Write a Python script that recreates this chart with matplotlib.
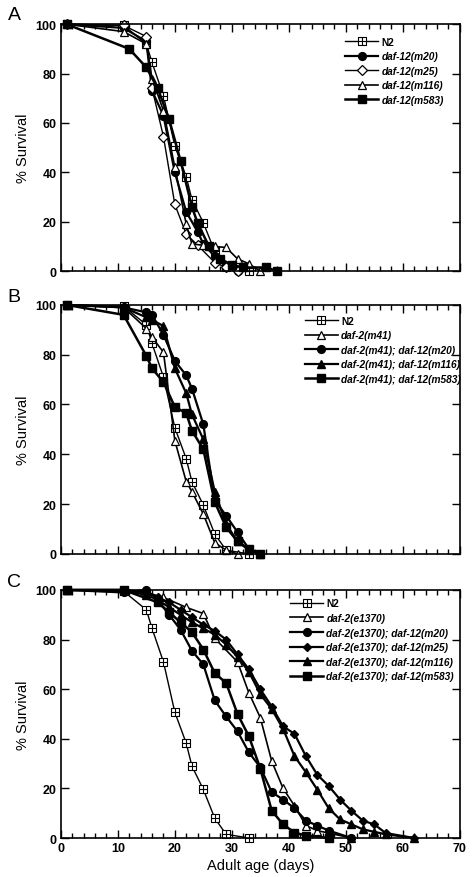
import matplotlib.pyplot as plt
from matplotlib.path import Path
from matplotlib.ticker import MultipleLocator

plt.rcParams['font.family'] = ['Liberation Sans', 'DejaVu Sans']

# N2 control, same curve in all three panels
n2_days = [1, 11, 15, 16, 18, 20, 22, 23, 25, 27, 29, 33]
n2_surv = [100, 99.5, 92, 84.5, 71, 50.7, 38.2, 29, 19.6, 8, 1.5, 0]

# panel A
a_m20_days = [1, 11, 15, 16, 18, 20, 22, 24, 25, 27, 29, 31]
a_m20_surv = [100, 98.5, 93, 73, 63, 40, 24, 16, 11, 6, 2, 0]
a_m25_days = [1, 11, 15, 16, 18, 20, 22, 24, 27, 29, 31]
a_m25_surv = [100, 99.5, 95, 74, 54.5, 27, 15, 10.5, 3.5, 1.5, 0]
a_m116_days = [1, 11, 15, 16, 18, 20, 22, 23, 25, 27, 29, 31, 33, 35]
a_m116_surv = [100, 97, 92, 78, 65, 42, 19, 11, 10.5, 10, 9.6, 5, 3, 0]
a_m583_days = [1, 12, 15, 17, 19, 21, 23, 24, 26, 28, 30, 32, 36, 38]
a_m583_surv = [100, 90, 82.5, 74, 61.5, 44.7, 26, 19.5, 10, 5, 2.5, 1.5, 1.5, 0]

# panel B
b_m41_days = [1, 11, 15, 16, 18, 20, 22, 23, 25, 27, 29, 31]
b_m41_surv = [100, 99, 90.5, 87, 81, 45.5, 29, 25, 16, 4.5, 1.5, 0]
b_m20_days = [1, 11, 15, 16, 18, 20, 22, 23, 25, 27, 29, 31, 33, 35]
b_m20_surv = [100, 99, 97, 96, 88, 77.5, 71.7, 66.4, 52, 21.5, 15.4, 8.7, 2, 0]
b_m116_days = [1, 11, 15, 16, 18, 20, 22, 23, 25, 27, 29, 31, 33, 35]
b_m116_surv = [100, 99, 95, 94, 91.5, 74.5, 64.5, 56, 46, 25, 12, 5, 1.5, 0]
b_m583_days = [1, 11, 15, 16, 18, 20, 22, 23, 25, 27, 29, 31, 33, 35]
b_m583_surv = [100, 96, 79.5, 74.5, 69, 59, 56.5, 49.5, 42, 20.8, 10.7, 5, 2, 0]

# panel C
c_e1370_days = [1, 11, 15, 18, 22, 25, 27, 31, 33, 35, 37, 39, 41, 43, 45, 47, 51]
c_e1370_surv = [100, 100, 99, 97, 93, 90.5, 80.5, 71, 58.5, 48.5, 31, 20, 13, 5, 3, 2, 0]
c_m20_days = [1, 11, 15, 17, 19, 21, 23, 25, 27, 29, 31, 33, 35, 37, 39, 41, 43, 45, 47, 51]
c_m20_surv = [100, 99, 100, 96, 90, 84, 75.5, 70, 55.5, 49, 43, 34.5, 28.5, 18.5, 15.5, 12, 7, 5, 3, 0]
c_m25_days = [1, 11, 15, 17, 19, 21, 23, 25, 27, 29, 31, 33, 35, 37, 39, 41, 43, 45, 47, 49, 51, 53, 55, 57, 62]
c_m25_surv = [100, 100, 99, 97, 95, 92, 89, 86, 83.5, 80, 74, 68, 60, 53, 45, 42, 33, 25.5, 21, 15.5, 11, 7, 5.5, 2, 0]
c_m116_days = [1, 11, 15, 17, 19, 21, 23, 25, 27, 29, 31, 33, 35, 37, 39, 41, 43, 45, 47, 49, 51, 53, 55, 57, 62]
c_m116_surv = [100, 100, 98, 96, 93, 90, 87, 84.5, 82, 78, 73, 67, 58, 52, 44, 33, 26.5, 19.5, 12, 7.5, 5.5, 3.5, 2.5, 1.5, 0]
c_m583_days = [1, 11, 17, 19, 21, 23, 25, 27, 29, 31, 33, 35, 37, 39, 41, 43, 47]
c_m583_surv = [100, 100, 95, 91, 87, 83, 76, 66.5, 62.5, 50, 41, 28, 11, 5.5, 2.2, 1, 0]

# square with a cross inside, for N2
sq_cross = Path([(-1, -1), (1, -1), (1, 1), (-1, 1), (-1, -1),
                 (0, -1), (0, 1), (-1, 0), (1, 0)],
                [Path.MOVETO, Path.LINETO, Path.LINETO, Path.LINETO, Path.CLOSEPOLY,
                 Path.MOVETO, Path.LINETO, Path.MOVETO, Path.LINETO])

N2 = dict(marker=sq_cross, mfc='white', mec='black', ms=5.6, mew=0.8, lw=1.0)
OPEN_D = dict(marker='D', mfc='white', mec='black', ms=4.6, mew=0.9, lw=1.0)
OPEN_T = dict(marker='^', mfc='white', mec='black', ms=5.6, mew=0.9, lw=1.2)
CIRC = dict(marker='o', mfc='black', mec='black', ms=5.6, lw=1.6)
DIAM = dict(marker='D', mfc='black', mec='black', ms=4.2, lw=1.6)
TRI = dict(marker='^', mfc='black', mec='black', ms=5.6, lw=1.6)
SQ = dict(marker='s', mfc='black', mec='black', ms=5.4, lw=1.8)

fig = plt.figure(figsize=(4.72, 8.78), dpi=100)
axA = fig.add_axes([0.129, 0.690, 0.845, 0.2813])
axB = fig.add_axes([0.129, 0.368, 0.845, 0.2836])
axC = fig.add_axes([0.129, 0.0444, 0.845, 0.2825])


def curve(ax, x, y, label, style):
    ax.plot(x, y, color='black', label=label, clip_on=False, **style)


curve(axA, n2_days, n2_surv, 'N2', N2)
curve(axA, a_m20_days, a_m20_surv, 'daf-12(m20)', CIRC)
curve(axA, a_m25_days, a_m25_surv, 'daf-12(m25)', OPEN_D)
curve(axA, a_m116_days, a_m116_surv, 'daf-12(m116)', OPEN_T)
curve(axA, a_m583_days, a_m583_surv, 'daf-12(m583)', SQ)

curve(axB, n2_days, n2_surv, 'N2', N2)
curve(axB, b_m41_days, b_m41_surv, 'daf-2(m41)', OPEN_T)
curve(axB, b_m20_days, b_m20_surv, 'daf-2(m41); daf-12(m20)', CIRC)
curve(axB, b_m116_days, b_m116_surv, 'daf-2(m41); daf-12(m116)', TRI)
curve(axB, b_m583_days, b_m583_surv, 'daf-2(m41); daf-12(m583)', SQ)

curve(axC, n2_days, n2_surv, 'N2', N2)
curve(axC, c_e1370_days, c_e1370_surv, 'daf-2(e1370)', OPEN_T)
curve(axC, c_m20_days, c_m20_surv, 'daf-2(e1370); daf-12(m20)', CIRC)
curve(axC, c_m25_days, c_m25_surv, 'daf-2(e1370); daf-12(m25)', DIAM)
curve(axC, c_m116_days, c_m116_surv, 'daf-2(e1370); daf-12(m116)', TRI)
curve(axC, c_m583_days, c_m583_surv, 'daf-2(e1370); daf-12(m583)', SQ)

legend_pos = {axA: (0.712, 0.95), axB: (0.611, 0.957), axC: (0.574, 0.966)}

for ax in (axA, axB, axC):
    ax.set_xlim(0, 70)
    ax.set_ylim(0, 100)
    ax.xaxis.set_major_locator(MultipleLocator(10))
    ax.xaxis.set_minor_locator(MultipleLocator(2))
    ax.yaxis.set_major_locator(MultipleLocator(20))
    ax.tick_params(which='both', direction='in', top=True, right=True, width=1.0)
    ax.tick_params(which='major', length=6, labelsize=9, pad=3)
    ax.tick_params(which='minor', length=3.5)
    for sp in ax.spines.values():
        sp.set_linewidth(1.2)
    for lab in ax.get_xticklabels() + ax.get_yticklabels():
        lab.set_fontweight('bold')
    ax.set_ylabel('% Survival', fontsize=10.5, labelpad=4)
    leg = ax.legend(loc='upper left', bbox_to_anchor=legend_pos[ax], frameon=False,
                    handlelength=3.3, handletextpad=0.3, labelspacing=0.45,
                    borderpad=0, borderaxespad=0, prop={'weight': 'bold', 'size': 7.3})
    for t in leg.get_texts()[1:]:
        t.set_style('italic')

axA.tick_params(labelbottom=False)
axB.tick_params(labelbottom=False)
axC.set_xlabel('Adult age (days)', fontsize=10.5, labelpad=3)

fig.text(14 / 472, 1 - 15 / 878, 'A', fontsize=14, ha='center', va='center')
fig.text(14 / 472, 1 - 297 / 878, 'B', fontsize=14, ha='center', va='center')
fig.text(14 / 472, 1 - 583 / 878, 'C', fontsize=14, ha='center', va='center')

fig.savefig('out.png', dpi=100)
